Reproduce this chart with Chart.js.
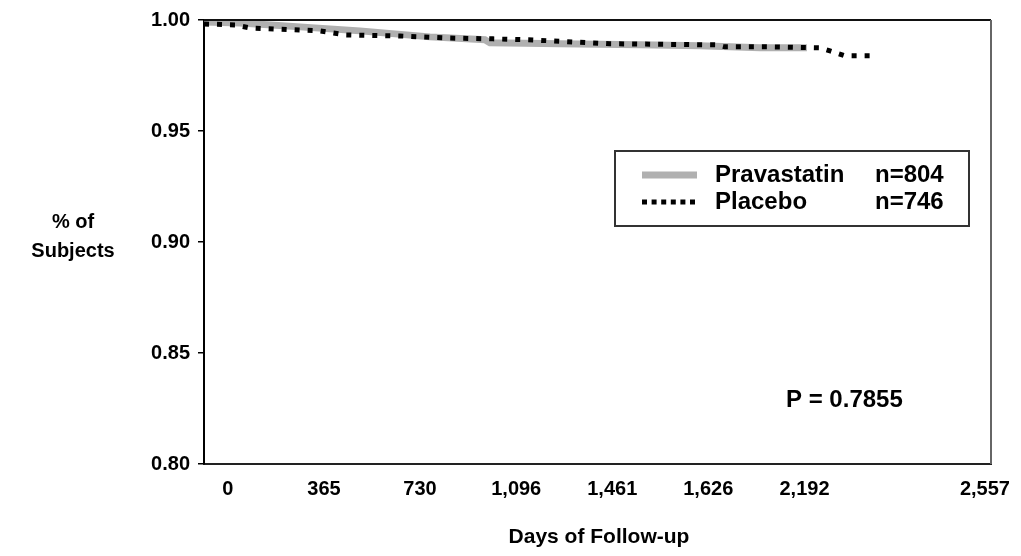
<!DOCTYPE html>
<html>
<head>
<meta charset="utf-8">
<script src="https://cdn.jsdelivr.net/npm/chart.js@4/dist/chart.umd.min.js"></script>
<style>
    body { margin: 0; background: #fff; }
</style>
</head>
<body>
<canvas id="km" width="1021" height="556"></canvas>
<script>
const FONT = '"Liberation Sans", Arial, sans-serif';

// x axis: days, labels as printed on the original
const tickDays = [0, 365, 730, 1096, 1461, 1826, 2192, 2878];
const tickLabels = ['0', '365', '730', '1,096', '1,461', '1,626', '2,192', '2,557'];

// Pravastatin (n=804)
const pravaDays = [-91, 46, 274, 502, 768, 977, 996, 1262, 1566, 1795, 2023, 2201];
const pravaSurv = [0.9991, 0.9987, 0.9969, 0.9951, 0.9924, 0.9911, 0.9897, 0.9893, 0.9888, 0.9884, 0.9875, 0.9875];

// Placebo (n=746)
const placeboDays = [-91, 27, 84, 350, 445, 654, 833, 1008, 1160, 1452, 1859, 1890, 2061, 2251, 2289, 2346, 2468];
const placeboSurv = [0.9982, 0.9978, 0.9964, 0.9951, 0.9933, 0.9928, 0.9919, 0.9915, 0.9910, 0.9893, 0.9888, 0.9879, 0.9879, 0.9875, 0.9861, 0.9839, 0.9839];

const yTicks = [0.80, 0.85, 0.90, 0.95, 1.00];

const toPoints = (xs, ys) => xs.map((x, i) => ({ x: x, y: ys[i] }));

const prava = {
    label: 'Pravastatin',
    note: 'n=804',
    data: toPoints(pravaDays, pravaSurv),
    borderColor: '#b0b0b0',
    borderWidth: 7,
    pointRadius: 0,
    fill: false,
    order: 2,
};

const placebo = {
    label: 'Placebo',
    note: 'n=746',
    data: toPoints(placeboDays, placeboSurv),
    borderColor: '#000000',
    borderWidth: 5,
    borderDash: [5, 8],
    borderCapStyle: 'butt',
    pointRadius: 0,
    fill: false,
    order: 1,
};

// frame, legend box and free text
const decorations = {
    id: 'decorations',
    afterDraw(chart) {
        const ctx = chart.ctx;
        const a = chart.chartArea;
        ctx.save();

        // top and right edges of the frame
        ctx.lineWidth = 2;
        ctx.strokeStyle = '#111';
        ctx.beginPath();
        ctx.moveTo(a.left, a.top);
        ctx.lineTo(a.right, a.top);
        ctx.stroke();
        ctx.strokeStyle = '#666';
        ctx.beginPath();
        ctx.moveTo(a.right, a.top);
        ctx.lineTo(a.right, a.bottom);
        ctx.stroke();

        // legend
        ctx.strokeStyle = '#333';
        ctx.lineWidth = 2;
        ctx.strokeRect(615, 151, 354, 75);
        ctx.font = 'bold 24px ' + FONT;
        ctx.fillStyle = '#000';
        ctx.textBaseline = 'alphabetic';
        ctx.textAlign = 'left';
        const rows = [
            { ds: prava, y: 175, base: 182, dash: [] },
            { ds: placebo, y: 202, base: 209, dash: [5, 4.6] },
        ];
        rows.forEach(r => {
            ctx.beginPath();
            ctx.setLineDash(r.dash);
            ctx.lineCap = 'butt';
            ctx.strokeStyle = r.ds.borderColor;
            ctx.lineWidth = r.ds.borderWidth;
            ctx.moveTo(642, r.y);
            ctx.lineTo(697, r.y);
            ctx.stroke();
            ctx.setLineDash([]);
            ctx.fillText(r.ds.label, 715, r.base);
            ctx.fillText(r.ds.note, 875, r.base);
        });

        ctx.fillText('P = 0.7855', 786, 407);

        // axis titles
        ctx.font = 'bold 20px ' + FONT;
        ctx.textAlign = 'center';
        ctx.fillText('% of', 73, 228);
        ctx.fillText('Subjects', 73, 257);
        ctx.font = 'bold 21px ' + FONT;
        ctx.fillText('Days of Follow-up', 599, 543);

        ctx.restore();
    },
};

new Chart(document.getElementById('km'), {
    type: 'line',
    data: { datasets: [prava, placebo] },
    options: {
        responsive: false,
        animation: false,
        parsing: false,
        layout: { padding: { left: 0, top: 17, right: 30, bottom: 0 } },
        plugins: {
            legend: { display: false },
            tooltip: { enabled: false },
        },
        scales: {
            x: {
                type: 'linear',
                min: -91,
                max: 2901,
                afterBuildTicks: scale => {
                    scale.ticks = tickDays.map(v => ({ value: v }));
                },
                afterFit: scale => { scale.height = 92; },
                grid: { display: false },
                border: { display: true, color: '#222', width: 2 },
                ticks: {
                    color: '#000',
                    font: { family: FONT, size: 20, weight: 'bold' },
                    padding: 5,
                    maxRotation: 0,
                    autoSkip: false,
                    callback: (value, index) => tickLabels[index],
                },
            },
            y: {
                type: 'linear',
                min: 0.80,
                max: 1.00,
                afterBuildTicks: scale => {
                    scale.ticks = yTicks.map(v => ({ value: v }));
                },
                afterFit: scale => { scale.width = 204; },
                grid: {
                    display: true,
                    drawOnChartArea: false,
                    tickLength: 6,
                    color: '#000',
                    lineWidth: 1.5,
                },
                border: { display: true, color: '#000', width: 2 },
                ticks: {
                    color: '#000',
                    font: { family: FONT, size: 20, weight: 'bold' },
                    padding: 8,
                    callback: value => value.toFixed(2),
                },
            },
        },
    },
    plugins: [decorations],
});
</script>
</body>
</html>
